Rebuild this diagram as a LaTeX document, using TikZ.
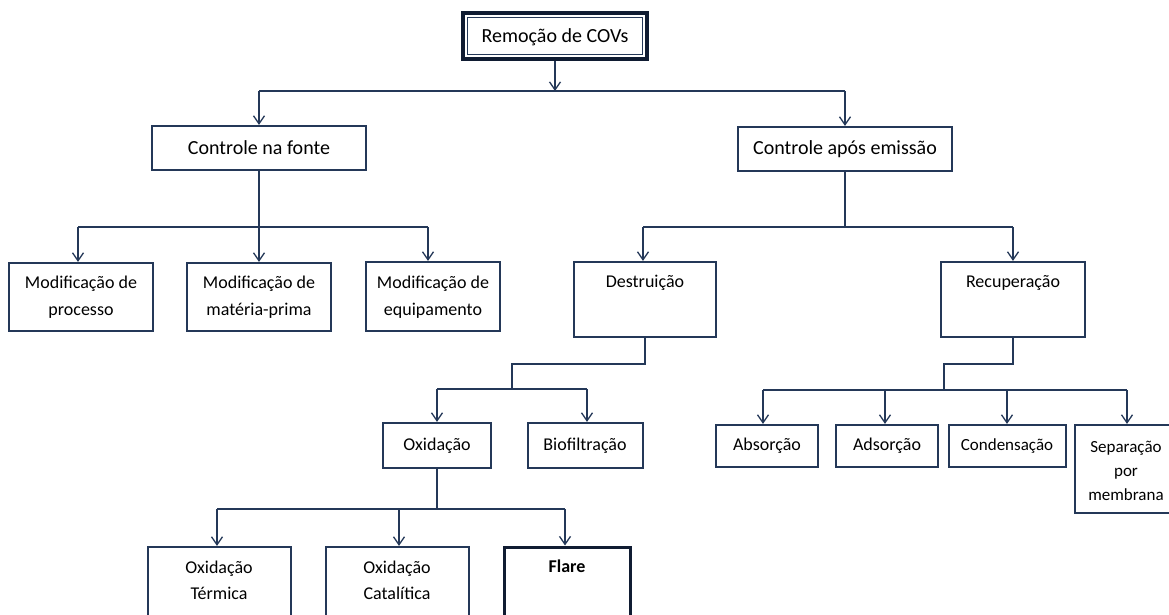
\documentclass[tikz,border=0pt]{standalone}
\usepackage{fontspec}
\setmainfont{Carlito}
\usetikzlibrary{arrows.meta,fit}
\definecolor{navy}{RGB}{36,56,88}
\definecolor{deep}{RGB}{16,28,50}
\begin{document}
\begin{tikzpicture}[x=1pt,y=-1pt,
  box/.style={draw=navy, line width=2.2pt, inner sep=0pt, fill=white},
  ln/.style={draw=navy, line width=1.3pt},
  arr/.style={ln, -{Straight Barb[length=8pt,width=11pt,line width=1.3pt]}},
  tt/.style={font=\fontsize{20}{26}\selectfont, align=center, inner sep=0pt, text=black},
  tm/.style={font=\fontsize{18}{27}\selectfont, align=center, inner sep=0pt, text=black},
  ts/.style={font=\fontsize{17}{24}\selectfont, align=center, inner sep=0pt, text=black}]
\useasboundingbox (0,0) rectangle (1169,614);
\clip (0,0) rectangle (1169,614);

% root
\node[fit={(463,13) (647,59)}, inner sep=0pt, draw=deep, line width=3.8pt, fill=white] (root) {};
\node[fit={(467.5,17.5) (642.5,54.5)}, inner sep=0pt, draw=navy, line width=0.9pt] (rootin) {};
\node[tt] (root-t) at (555,37) {Remoção de COVs};

% level 1
\node[box, fit={(152,126) (366,170)}] (fonte) {};
\node[tt] (fonte-t) at (259,148) {Controle na fonte};
\node[box, fit={(738,127) (952,171)}] (emis) {};
\node[tt] (emis-t) at (845,149) {Controle após emissão};

% level 2 left
\node[box, fit={(9,263) (153,331)}] (m1) {};
\node[tm] (m1-t) at (81,297) {Modificação de\\processo};
\node[box, fit={(187,263) (331,331)}] (m2) {};
\node[tm] (m2-t) at (259,297) {Modificação de\\matéria-prima};
\node[box, fit={(366,262) (500,331)}] (m3) {};
\node[tm] (m3-t) at (433,297) {Modificação de\\equipamento};

% level 2 right
\node[box, fit={(574,262) (716,337)}] (destr) {};
\node[tm] (destr-t) at (645,283) {Destruição};
\node[box, fit={(941,262) (1085,337)}] (recup) {};
\node[tm] (recup-t) at (1013,283) {Recuperação};

% level 3
\node[box, fit={(383,423) (491,468)}] (oxi) {};
\node[tm] (oxi-t) at (437,446) {Oxidação};
\node[box, fit={(528,423) (643,468)}] (bio) {};
\node[tm] (bio-t) at (585,446) {Biofiltração};

\node[box, fit={(716,425) (818,467)}] (abs) {};
\node[tm] (abs-t) at (767,446) {Absorção};
\node[box, fit={(836,425) (938,467)}] (ads) {};
\node[tm] (ads-t) at (887,446) {Adsorção};
\node[box, fit={(949,425) (1066,467)}] (cond) {};
\node[ts] (cond-t) at (1007,446) {Condensação};
\node[box, fit={(1075,425) (1178,513)}] (sep) {};
\node[ts] (sep-t) at (1126,471) {Separação\\por\\membrana};

% level 4
\node[box, fit={(148,547) (291,630)}] (ot) {};
\node[tm, font=\fontsize{18}{26}\selectfont] (ot-t) at (219,580) {Oxidação\\Térmica};
\node[box, fit={(326,547) (469,630)}] (oc) {};
\node[tm, font=\fontsize{18}{26}\selectfont] (oc-t) at (397,580) {Oxidação\\Catalítica};
\node[box, line width=3pt, draw=deep, fit={(504,547) (630,630)}] (flare) {};
\node[tm, font=\fontsize{18}{26}\selectfont\bfseries] (flare-t) at (567,566) {Flare};

% connectors: root
\coordinate (j0) at (555,91);
\coordinate (jL) at (259,91);
\coordinate (jR) at (845,91);
\draw[arr] (root.south) -- (j0);
\draw[ln] (jL) -- (jR);
\draw[arr] (jL) -- (fonte.north);
\draw[arr] (jR) -- (emis.north);

% fonte
\coordinate (f1) at (78,227);
\coordinate (f3) at (428,227);
\draw[ln] (f1) -- (f3);
\draw[arr] (fonte.south) -- (m2.north);
\draw[arr] (f1) -- (f1 |- m1.north);
\draw[arr] (f3) -- (f3 |- m3.north);

% emissao
\coordinate (e0) at (845,227);
\coordinate (e1) at (643,227);
\coordinate (e2) at (1013,227);
\draw[ln] (emis.south) -- (e0);
\draw[ln] (e1) -- (e2);
\draw[arr] (e1) -- (e1 |- destr.north);
\draw[arr] (e2) -- (e2 |- recup.north);

% destruicao
\coordinate (d1) at (645,364);
\coordinate (d2) at (512,364);
\coordinate (d3) at (512,389);
\coordinate (o1) at (437,389);
\coordinate (o2) at (587,389);
\draw[ln] (destr.south) -- (d1) -- (d2) -- (d3);
\draw[ln] (o1) -- (o2);
\draw[arr] (o1) -- (o1 |- oxi.north);
\draw[arr] (o2) -- (o2 |- bio.north);

% recuperacao
\coordinate (r1) at (1013,364);
\coordinate (r2) at (944,364);
\coordinate (r3) at (944,390);
\coordinate (a1) at (763,390);
\coordinate (a2) at (885,390);
\coordinate (a3) at (1007,390);
\coordinate (a4) at (1127,390);
\draw[ln] (recup.south) -- (r1) -- (r2) -- (r3);
\draw[ln] (a1) -- (a4);
\draw[arr] (a1) -- (a1 |- abs.north);
\draw[arr] (a2) -- (a2 |- ads.north);
\draw[arr] (a3) -- (a3 |- cond.north);
\draw[arr] (a4) -- (a4 |- sep.north);

% oxidacao
\coordinate (x1) at (437,509);
\coordinate (b1) at (217,509);
\coordinate (b2) at (399,509);
\coordinate (b3) at (565,509);
\draw[ln] (oxi.south) -- (x1);
\draw[ln] (b1) -- (b3);
\draw[arr] (b1) -- (b1 |- ot.north);
\draw[arr] (b2) -- (b2 |- oc.north);
\draw[arr] (b3) -- (b3 |- flare.north);
\end{tikzpicture}
\end{document}
